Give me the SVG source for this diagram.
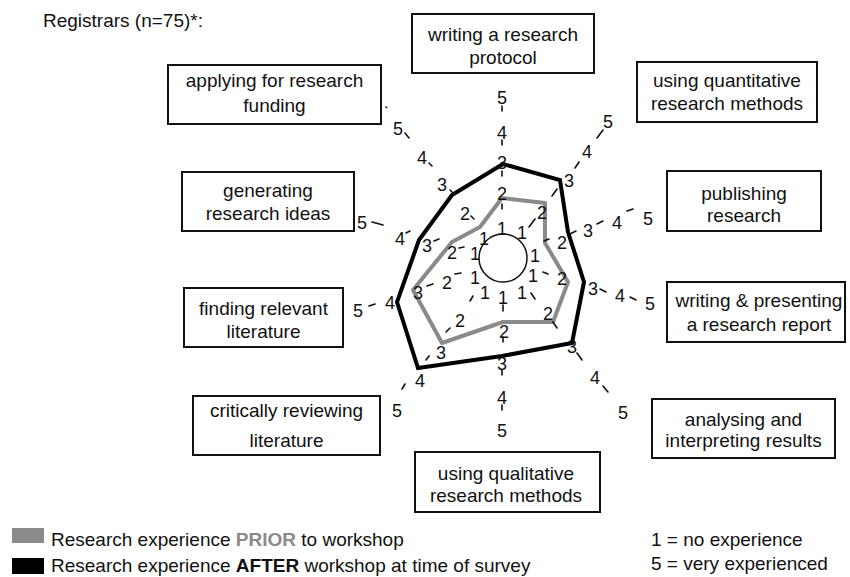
<svg xmlns="http://www.w3.org/2000/svg" width="850" height="577" viewBox="0 0 850 577">
<style>
text{font-family:"Liberation Sans",Arial,sans-serif;fill:#111}
.lbl{font-size:19px;text-anchor:middle}
.n{font-size:18px;text-anchor:middle}
.box{fill:#fff;stroke:#111;stroke-width:2}
.d{stroke:#111;stroke-width:1.6;fill:none;stroke-linecap:round}
</style>
<rect width="850" height="577" fill="#fff"/>
<text x="43" y="27" style="font-size:19px">Registrars (n=75)*:</text>

<g id="connectors">
<polygon points="502,198 545,203 545,243 568,282 553,322 503,322 442,343 413,290 452,242 480,227" fill="none" stroke="#8a8a8a" stroke-width="4" stroke-linejoin="round"/>
<polygon points="503,164 560,180 568,232 584,282 572,343 502,356 418,368 397,302 419,240 452,195" fill="none" stroke="#000" stroke-width="4" stroke-linejoin="miter"/>
<circle cx="503" cy="258" r="24" fill="#fff" stroke="#111" stroke-width="1.5"/>
<path class="d" d="M502,106V111M502,140V145M502,171V176M502,204V209
M597,138L603,130M575,168L579,162M552,196L557,189M529,227L535,219
M544,241L549,239M570,234L576,231M597,224L603,221M627,211L633,209
M543,272L548,274M600,289L606,292M630,297L636,300
M531,293L535,299M553,322L557,328M577,353L582,360M603,386L608,392
M503,305V311M503,337V342M502,370V375M502,405V410
M470,301L473,296M446,332L450,328M426,360L429,356M402,389L405,384
M455,274L461,273M427,286L433,284M369,306L375,304
M459,248L464,247M434,241L439,239M406,233L410,231M372,222L383,225
M471,216L474,219M450,190L454,194M429,163L432,166M405,133L409,138
M386,107L386.5,107.5"/>
</g>

<g id="scale-numbers">
<text class="n" x="502" y="104">5</text><text class="n" x="502" y="139">4</text><text class="n" x="502" y="169">3</text><text class="n" x="502" y="200">2</text><text class="n" x="502" y="235">1</text>
<text class="n" x="608" y="128">5</text><text class="n" x="587" y="158">4</text><text class="n" x="569" y="187">3</text><text class="n" x="542" y="219">2</text><text class="n" x="522" y="239">1</text>
<text class="n" x="648" y="225">5</text><text class="n" x="617" y="229">4</text><text class="n" x="588" y="237">3</text><text class="n" x="562" y="249">2</text><text class="n" x="535" y="262">1</text>
<text class="n" x="650" y="310">5</text><text class="n" x="620" y="302">4</text><text class="n" x="593" y="295">3</text><text class="n" x="562" y="285">2</text><text class="n" x="533" y="282">1</text>
<text class="n" x="623" y="419">5</text><text class="n" x="595" y="384">4</text><text class="n" x="572" y="353">3</text><text class="n" x="548" y="320">2</text><text class="n" x="522" y="299">1</text>
<text class="n" x="502" y="437">5</text><text class="n" x="502" y="404">4</text><text class="n" x="502" y="370">3</text><text class="n" x="504" y="338">2</text><text class="n" x="503" y="304">1</text>
<text class="n" x="397" y="417">5</text><text class="n" x="420" y="387">4</text><text class="n" x="441" y="359">3</text><text class="n" x="460" y="327">2</text><text class="n" x="485" y="299">1</text>
<text class="n" x="358" y="317">5</text><text class="n" x="390" y="309">4</text><text class="n" x="418" y="299">3</text><text class="n" x="447" y="289">2</text><text class="n" x="475" y="284">1</text>
<text class="n" x="362" y="229">5</text><text class="n" x="400" y="245">4</text><text class="n" x="427" y="252">3</text><text class="n" x="452" y="259">2</text><text class="n" x="475" y="260">1</text>
<text class="n" x="398" y="135">5</text><text class="n" x="422" y="164">4</text><text class="n" x="442" y="191">3</text><text class="n" x="465" y="220">2</text><text class="n" x="484" y="245">1</text>
</g>

<g id="node-protocol"><rect class="box" x="412" y="14" width="182" height="59"/><text class="lbl" x="503" y="41">writing a research</text><text class="lbl" x="503" y="64">protocol</text></g>
<g id="node-quantitative"><rect class="box" x="637" y="62" width="180" height="60"/><text class="lbl" x="727" y="87">using quantitative</text><text class="lbl" x="727" y="110">research methods</text></g>
<g id="node-publishing"><rect class="box" x="667" y="171" width="154" height="60"/><text class="lbl" x="744" y="200">publishing</text><text class="lbl" x="744" y="222">research</text></g>
<g id="node-report"><rect class="box" x="667" y="282" width="178" height="60"/><text class="lbl" x="759" y="307">writing &amp; presenting</text><text class="lbl" x="759" y="331">a research report</text></g>
<g id="node-analysing"><rect class="box" x="652" y="399" width="183" height="59"/><text class="lbl" x="743.5" y="426">analysing and</text><text class="lbl" x="743.5" y="447">interpreting results</text></g>
<g id="node-qualitative"><rect class="box" x="415" y="452" width="185" height="60"/><text class="lbl" x="506" y="480">using qualitative</text><text class="lbl" x="506" y="502">research methods</text></g>
<g id="node-critical"><rect class="box" x="193" y="396" width="187" height="59"/><text class="lbl" x="286.5" y="417">critically reviewing</text><text class="lbl" x="286.5" y="447">literature</text></g>
<g id="node-finding"><rect class="box" x="184" y="288" width="159" height="59"/><text class="lbl" x="263.5" y="315">finding relevant</text><text class="lbl" x="263.5" y="338">literature</text></g>
<g id="node-generating"><rect class="box" x="182" y="172" width="172" height="59"/><text class="lbl" x="268" y="197">generating</text><text class="lbl" x="268" y="220">research ideas</text></g>
<g id="node-applying"><rect class="box" x="168" y="65" width="213" height="59"/><text class="lbl" x="274.5" y="87">applying for research</text><text class="lbl" x="274.5" y="112">funding</text></g>

<g id="legend">
<rect x="12" y="528" width="32" height="15" fill="#8a8a8a"/>
<text x="51" y="546" style="font-size:19px">Research experience <tspan style="fill:#8a8a8a;font-weight:bold">PRIOR</tspan> to workshop</text>
<rect x="12" y="558" width="32" height="16" fill="#000"/>
<text x="51" y="572" style="font-size:19px">Research experience <tspan style="font-weight:bold">AFTER</tspan> workshop at time of survey</text>
<text x="651" y="546" style="font-size:19px">1 = no experience</text>
<text x="651" y="570" style="font-size:19px">5 = very experienced</text>
</g>
</svg>
